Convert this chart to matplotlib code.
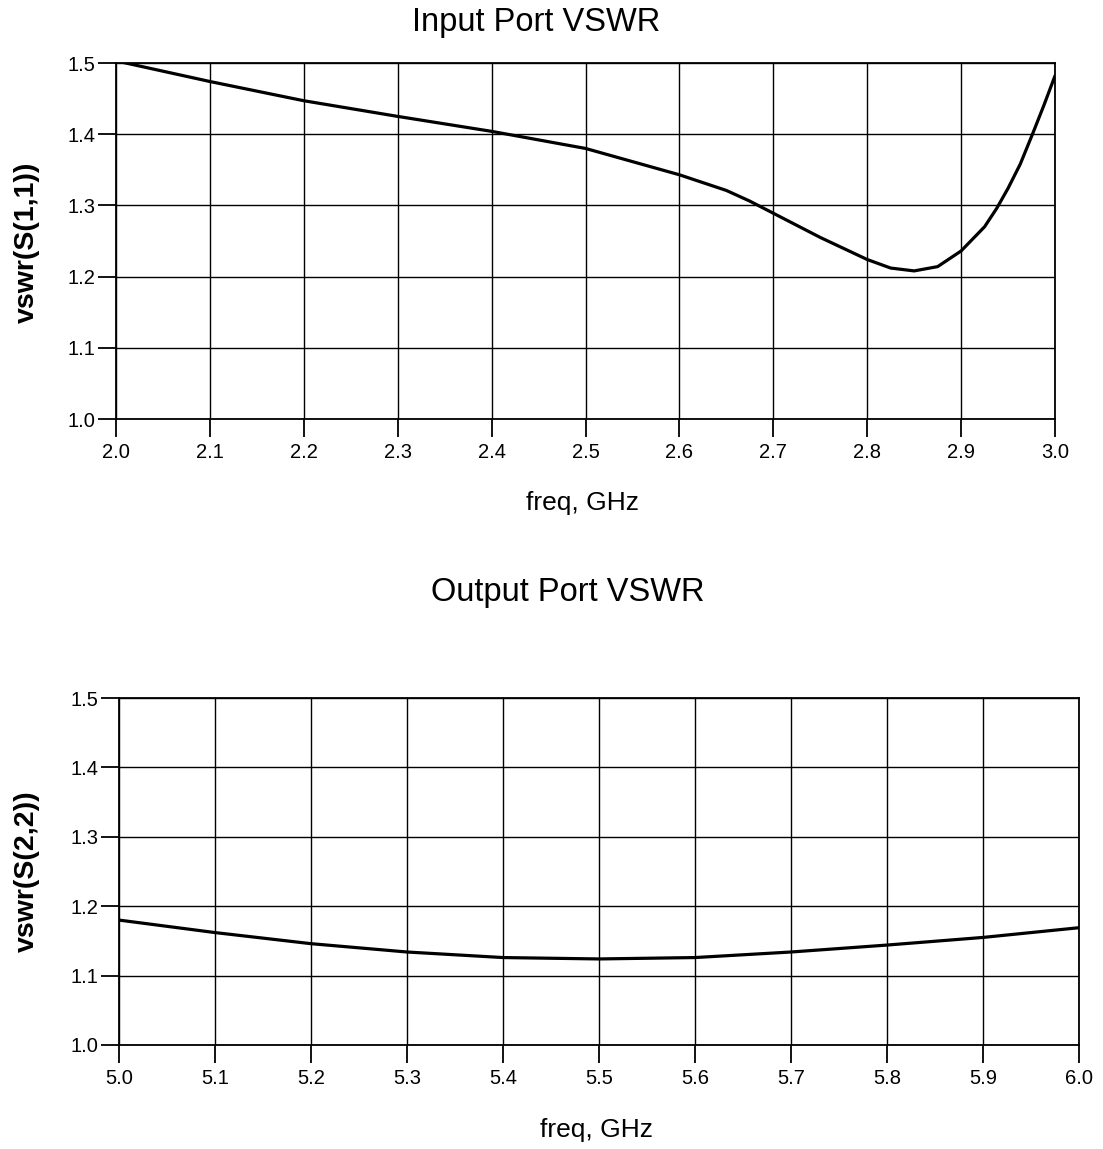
import matplotlib
matplotlib.use("Agg")
import matplotlib.pyplot as plt
import numpy as np

plt.rcParams['font.family'] = ['Liberation Sans', 'DejaVu Sans']

# Input port data (freq GHz, VSWR)
freq_in = [2.0, 2.1, 2.2, 2.3, 2.4, 2.5, 2.6, 2.65, 2.675, 2.7, 2.75, 2.8,
           2.825, 2.85, 2.875, 2.9, 2.925, 2.938, 2.95, 2.963, 2.976, 2.988, 3.0]
vswr_in = [1.503, 1.474, 1.447, 1.425, 1.404, 1.380, 1.343, 1.321, 1.306, 1.289,
           1.255, 1.224, 1.212, 1.208, 1.214, 1.236, 1.270, 1.296, 1.324, 1.358,
           1.400, 1.440, 1.482]

# Output port data
freq_out = [5.0, 5.1, 5.2, 5.3, 5.4, 5.5, 5.6, 5.7, 5.8, 5.9, 6.0]
vswr_out = [1.180, 1.162, 1.146, 1.134, 1.126, 1.124, 1.126, 1.134, 1.144, 1.155, 1.169]

yticks = [1.0, 1.1, 1.2, 1.3, 1.4, 1.5]
xticks_in = [2.0, 2.1, 2.2, 2.3, 2.4, 2.5, 2.6, 2.7, 2.8, 2.9, 3.0]
xticks_out = [5.0, 5.1, 5.2, 5.3, 5.4, 5.5, 5.6, 5.7, 5.8, 5.9, 6.0]

W, H = 1103, 1149
fig = plt.figure(figsize=(W / 100, H / 100), dpi=100)

def px_axes(l, t, r, b):
    return fig.add_axes([l / W, 1 - b / H, (r - l) / W, (b - t) / H])

ax1 = px_axes(116, 63, 1055, 419)
ax2 = px_axes(119, 698, 1079, 1045)

def style(ax, xticks, xlim):
    ax.set_xlim(*xlim)
    ax.set_ylim(1.0, 1.5)
    ax.set_xticks(xticks)
    ax.set_yticks(yticks)
    ax.set_xticklabels([f"{v:.1f}" for v in xticks])
    ax.set_yticklabels([f"{v:.1f}" for v in yticks])
    ax.grid(True, color='black', linewidth=1.0)
    ax.tick_params(which='major', direction='out', length=13, width=1.3, color='black',
                   labelcolor='black', labelsize=14.5, pad=2)
    ax.tick_params(axis='x', pad=4)
    for s in ax.spines.values():
        s.set_linewidth(1.3)
        s.set_color('black')

ax1.plot(freq_in, vswr_in, color='black', linewidth=2.3, solid_capstyle='round')
style(ax1, xticks_in, (2.0, 3.0))
ax2.plot(freq_out, vswr_out, color='black', linewidth=2.3, solid_capstyle='round')
style(ax2, xticks_out, (5.0, 6.0))

fig.text(27 / W, 1 - 242 / H, 'vswr(S(1,1))', ha='center', va='center', rotation=90,
         fontsize=20.5, fontweight='bold')
fig.text(27 / W, 1 - 871 / H, 'vswr(S(2,2))', ha='center', va='center', rotation=90,
         fontsize=20.5, fontweight='bold')

fig.text(536 / W, 1 - 22 / H, 'Input Port VSWR', ha='center', va='center', fontsize=23.5)
fig.text(583 / W, 1 - 503 / H, 'freq, GHz', ha='center', va='center', fontsize=19)
fig.text(568 / W, 1 - 593 / H, 'Output Port VSWR', ha='center', va='center', fontsize=23.5)
fig.text(597 / W, 1 - 1130 / H, 'freq, GHz', ha='center', va='center', fontsize=19)

fig.savefig('out.png', dpi=100, facecolor='white')
